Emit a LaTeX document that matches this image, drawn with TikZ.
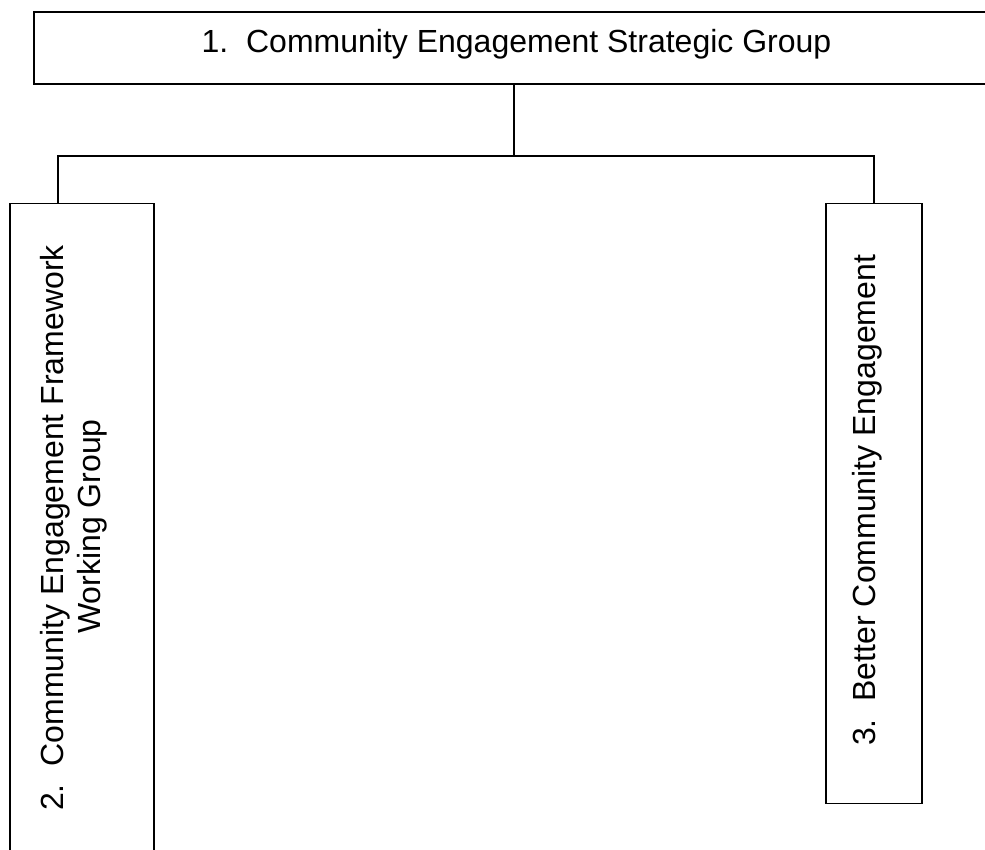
\documentclass[tikz,border=0pt]{standalone}
\usepackage{fontspec}
\setmainfont{Liberation Sans}
\begin{document}
\begin{tikzpicture}[x=1pt,y=-1pt,
  box/.style={draw,line width=1.6pt,inner sep=0pt},
  conn/.style={draw,line width=1.6pt},
  lbl/.style={inner sep=0pt,font=\fontsize{32}{37}\selectfont}]
\useasboundingbox (0,0) rectangle (985,849);
% boxes
\node[box,minimum width=976pt,minimum height=72pt] (top) at (522,48) {};
\node[box,minimum width=144pt,minimum height=676.5pt] (left) at (82,541.75) {};
\node[box,minimum width=96pt,minimum height=600pt] (right) at (874,503.5) {};
% labels
\node[lbl,anchor=base] (toplbl) at (516.5,52) {1.\ \ Community Engagement Strategic Group};
\node[lbl,rotate=90,anchor=base west] (leftlbla) at (63,811) {2.\ \ Community Engagement Framework};
\node[lbl,rotate=90,anchor=base west] (leftlblb) at (100,634) {Working Group};
\node[lbl,rotate=90,anchor=base west] (rightlbl) at (875,746) {3.\ \ Better Community Engagement};
% connectors
\coordinate (hub) at (514,156);
\coordinate (lj) at (58,203.5);
\draw[conn] (top.south -| hub) -- (hub);
\draw[conn] (lj) |- (right.north |- hub) -- (right.north);
\end{tikzpicture}
\end{document}
